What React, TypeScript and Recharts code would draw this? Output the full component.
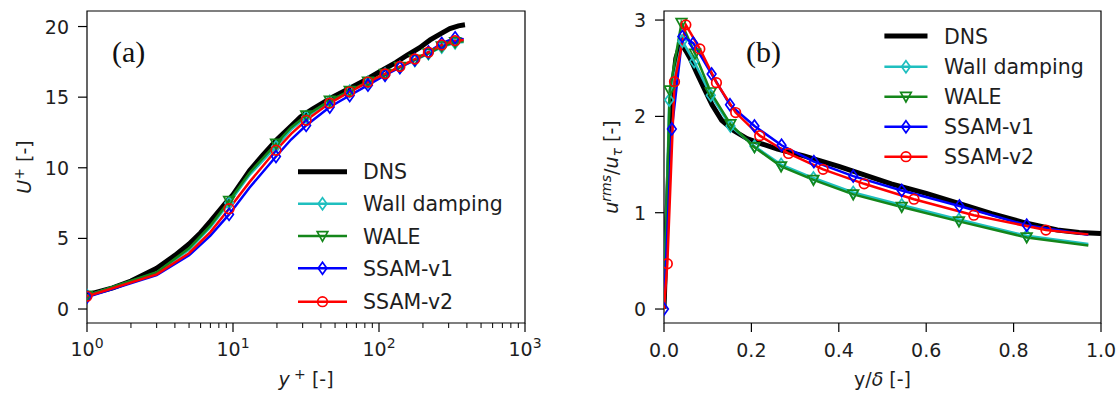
import { LineChart, Line, XAxis, YAxis, ReferenceArea, Legend } from 'recharts';

// (a) mean velocity profile, DNS reference
const dnsYPlus = [1, 1.5, 2, 3, 4, 5, 6, 7, 8.8, 10, 13, 16, 20, 25, 29, 35, 48, 65, 82, 101, 130, 155, 190, 224, 260, 306, 350, 388];
const dnsUPlus = [1.0, 1.5, 1.98, 2.88, 3.8, 4.6, 5.4, 6.2, 7.45, 8.1, 9.8, 10.9, 12.0, 12.95, 13.6, 14.15, 15.0, 15.7, 16.25, 16.8, 17.45, 17.95, 18.5, 19.05, 19.45, 19.85, 20.05, 20.12];

// (a) LES runs, shared wall-normal grid
const lesYPlus = [1, 3, 5, 7, 9.4, 13, 19.7, 25, 31.7, 46, 63, 84, 110, 139, 176, 218, 269, 332, 380];
const wallDampingU = [0.95, 2.55, 4.2, 5.8, 7.5, 9.5, 11.5, 12.7, 13.6, 14.7, 15.42, 16.05, 16.62, 17.12, 17.6, 18.08, 18.55, 18.85, 18.9];
const waleU = [0.95, 2.6, 4.3, 5.9, 7.65, 9.65, 11.7, 12.85, 13.7, 14.75, 15.45, 16.1, 16.65, 17.15, 17.65, 18.1, 18.6, 18.9, 18.95];
const ssamV1U = [0.85, 2.4, 3.8, 5.2, 6.7, 8.6, 10.8, 12.0, 13.0, 14.3, 15.12, 15.85, 16.55, 17.1, 17.65, 18.2, 18.8, 19.2, 19.1];
const ssamV2U = [0.9, 2.45, 3.95, 5.45, 7.1, 9.0, 11.24, 12.4, 13.36, 14.58, 15.38, 16.07, 16.65, 17.17, 17.7, 18.18, 18.7, 19.0, 19.05];
const lesMarksA = [0, 4, 6, 8, 9, 10, 11, 12, 13, 14, 15, 16, 17];

// (b) streamwise rms, DNS reference
const dnsYDelta = [0, 0.0025, 0.006, 0.01, 0.015, 0.02, 0.027, 0.035, 0.042, 0.05, 0.06, 0.075, 0.094, 0.11, 0.132, 0.16, 0.19, 0.22, 0.26, 0.32, 0.4, 0.46, 0.52, 0.6, 0.68, 0.75, 0.83, 0.9, 0.95, 1.0];
const dnsUrms = [0, 0.35, 0.85, 1.35, 1.9, 2.3, 2.6, 2.72, 2.74, 2.68, 2.6, 2.45, 2.27, 2.12, 1.96, 1.85, 1.77, 1.72, 1.66, 1.59, 1.48, 1.39, 1.3, 1.2, 1.09, 0.99, 0.89, 0.82, 0.795, 0.785];

// (b) LES runs
const wallDampingYDelta = [0, 0.012, 0.042, 0.069, 0.107, 0.152, 0.207, 0.268, 0.342, 0.433, 0.544, 0.675, 0.83, 0.971];
const wallDampingUrms = [0, 2.17, 2.78, 2.57, 2.22, 1.9, 1.69, 1.5, 1.36, 1.21, 1.08, 0.93, 0.76, 0.675];
const waleYDelta = [0, 0.013, 0.04, 0.071, 0.107, 0.152, 0.207, 0.268, 0.342, 0.433, 0.544, 0.675, 0.83, 0.971];
const waleUrms = [0, 2.27, 2.97, 2.65, 2.25, 1.92, 1.68, 1.48, 1.34, 1.19, 1.06, 0.91, 0.743, 0.66];
const ssamV1YDelta = [0, 0.018, 0.042, 0.067, 0.109, 0.151, 0.207, 0.269, 0.343, 0.433, 0.544, 0.676, 0.83, 0.971];
const ssamV1Urms = [0, 1.87, 2.83, 2.76, 2.44, 2.12, 1.9, 1.7, 1.53, 1.38, 1.23, 1.07, 0.87, 0.77];
const ssamV2YDelta = [0, 0.0076, 0.024, 0.05, 0.082, 0.12, 0.164, 0.219, 0.285, 0.364, 0.458, 0.572, 0.709, 0.874, 0.971];
const ssamV2Urms = [0, 0.47, 2.36, 2.95, 2.7, 2.35, 2.04, 1.8, 1.615, 1.45, 1.3, 1.14, 0.974, 0.82, 0.775];
const wallDampingMarksB = [1, 2, 3, 4, 5, 6, 7, 8, 9, 10, 11, 12];
const waleMarksB = [1, 2, 3, 4, 5, 6, 7, 8, 9, 10, 11, 12];
const ssamV1MarksB = [0, 1, 2, 3, 4, 5, 6, 7, 8, 9, 10, 11, 12];
const ssamV2MarksB = [1, 2, 3, 4, 5, 6, 7, 8, 9, 10, 11, 12, 13];

// tick labels
const logTicksA = [1, 2, 3, 4, 5, 6, 7, 8, 9, 10, 20, 30, 40, 50, 60, 70, 80, 90, 100, 200, 300, 400, 500, 600, 700, 800, 900, 1000];
const yTicksA = [0, 5, 10, 15, 20];
const xTicksB = [0, 0.2, 0.4, 0.6, 0.8, 1.0];
const yTicksB = [0, 1, 2, 3];

type Shape = 'none' | 'diamond' | 'tri' | 'circle';

const SERIES: { name: string; color: string; width: number; shape: Shape }[] = [
  { name: 'DNS', color: '#000000', width: 5, shape: 'none' },
  { name: 'Wall damping', color: '#1fbfbf', width: 2.5, shape: 'diamond' },
  { name: 'WALE', color: '#14861a', width: 2.5, shape: 'tri' },
  { name: 'SSAM-v1', color: '#0000ff', width: 2.5, shape: 'diamond' },
  { name: 'SSAM-v2', color: '#ff0000', width: 2.5, shape: 'circle' },
];

const FONT = '"DejaVu Sans", sans-serif';
const TEXT = '#1e1e1e';
const TICK_FS = 19;
const LEGEND_FS = 20.5;

const zip = (xs: number[], ys: number[], marks?: number[]) =>
  xs.map((x, i) => ({ x, y: ys[i], m: marks ? marks.includes(i) : false }));

const seriesA = [
  zip(dnsYPlus, dnsUPlus),
  zip(lesYPlus, wallDampingU, lesMarksA),
  zip(lesYPlus, waleU, lesMarksA),
  zip(lesYPlus, ssamV1U, lesMarksA),
  zip(lesYPlus, ssamV2U, lesMarksA),
];

const seriesB = [
  zip(dnsYDelta, dnsUrms),
  zip(wallDampingYDelta, wallDampingUrms, wallDampingMarksB),
  zip(waleYDelta, waleUrms, waleMarksB),
  zip(ssamV1YDelta, ssamV1Urms, ssamV1MarksB),
  zip(ssamV2YDelta, ssamV2Urms, ssamV2MarksB),
];

function Marker({ shape, color, cx, cy }: { shape: Shape; color: string; cx: number; cy: number }) {
  const common = { fill: 'none', stroke: color, strokeWidth: 1.7 };
  if (shape === 'diamond')
    return <polygon points={`${cx},${cy - 6} ${cx + 4.3},${cy} ${cx},${cy + 6} ${cx - 4.3},${cy}`} {...common} />;
  if (shape === 'tri')
    return <polygon points={`${cx - 5.3},${cy - 4.3} ${cx + 5.3},${cy - 4.3} ${cx},${cy + 5.3}`} {...common} />;
  if (shape === 'circle') return <circle cx={cx} cy={cy} r={4.8} {...common} />;
  return null;
}

const dotFor = (shape: Shape, color: string) => (p: any) => (
  <g key={`d-${p.index}`}>
    {p.payload && p.payload.m ? <Marker shape={shape} color={color} cx={p.cx} cy={p.cy} /> : null}
  </g>
);

// y ticks: outward tick line + label, drawn by hand (tickSize 0, tickMargin 0)
const leftTick = (fmt: (v: number) => string) => (p: any) => (
  <g>
    <line x1={p.x - 9} x2={p.x} y1={p.y} y2={p.y} stroke="#000" strokeWidth={1.2} />
    <text x={p.x - 18} y={p.y + 7} textAnchor="end" fontSize={TICK_FS} fontFamily={FONT} fill={TEXT}>
      {fmt(p.payload.value)}
    </text>
  </g>
);

const bottomTick = (fmt: (v: number) => string) => (p: any) => (
  <g>
    <line x1={p.x} x2={p.x} y1={p.y} y2={p.y + 9} stroke="#000" strokeWidth={1.2} />
    <text x={p.x} y={p.y + 34} textAnchor="middle" fontSize={TICK_FS} fontFamily={FONT} fill={TEXT}>
      {fmt(p.payload.value)}
    </text>
  </g>
);

function LogTick(p: any) {
  const v = p.payload.value;
  const e = Math.log10(v);
  const major = Math.abs(e - Math.round(e)) < 1e-6;
  return (
    <g>
      <line x1={p.x} x2={p.x} y1={p.y} y2={p.y + (major ? 9 : 5)} stroke="#000" strokeWidth={major ? 1.2 : 1} />
      {major && (
        <text x={p.x} y={p.y + 33} textAnchor="middle" fontSize={TICK_FS} fontFamily={FONT} fill={TEXT}>
          <tspan>10</tspan>
          <tspan dy={-8} fontSize={14}>{Math.round(e)}</tspan>
        </text>
      )}
    </g>
  );
}

function LegendOverlay({ x0, x1, tx, rows, panel, panelX }: { x0: number; x1: number; tx: number; rows: number[]; panel: string; panelX: number }) {
  return (
    <svg width={560} height={394} style={{ display: 'block' }}>
      <text x={panelX} y={61.5} fontSize={30} fontFamily='"Liberation Serif", serif' fill="#111">
        {panel}
      </text>
      {SERIES.map((s, i) => (
        <g key={s.name}>
          <line x1={x0} x2={x1} y1={rows[i]} y2={rows[i]} stroke={s.color} strokeWidth={s.width} />
          <Marker shape={s.shape} color={s.color} cx={(x0 + x1) / 2} cy={rows[i]} />
          <text x={tx} y={rows[i] + 7.5} fontSize={LEGEND_FS} fontFamily={FONT} fill={TEXT}>
            {s.name}
          </text>
        </g>
      ))}
    </svg>
  );
}

const overlayStyle = { left: 0, top: 0, width: 560, height: 394, pointerEvents: 'none' as const };

export default function App() {
  return (
    <div style={{ position: 'absolute', left: 0, top: 0, width: 1116, height: 394, background: '#fff', fontFamily: FONT }}>
      {/* (a) U+ vs y+ */}
      <div style={{ position: 'absolute', left: 0, top: 0 }}>
        <LineChart width={560} height={394} margin={{ top: 11, right: 35, bottom: 0, left: 0 }}>
          <XAxis
            type="number"
            dataKey="x"
            scale="log"
            domain={[1, 1000]}
            allowDataOverflow
            ticks={logTicksA}
            interval={0}
            tick={LogTick}
            tickSize={0}
            tickMargin={0}
            tickLine={false}
            axisLine={false}
            height={71}
            label={() => (
              <text x={306} y={386} textAnchor="middle" fontSize={TICK_FS} fontFamily={FONT} fill={TEXT}>
                <tspan fontStyle="italic">y</tspan>
                <tspan dy={-7} fontSize={14}> +</tspan>
                <tspan dy={7}> [-]</tspan>
              </text>
            )}
          />
          <YAxis
            type="number"
            domain={[-0.99, 21.1]}
            allowDataOverflow
            ticks={yTicksA}
            interval={0}
            tick={leftTick((v) => String(v))}
            tickSize={0}
            tickMargin={0}
            tickLine={false}
            axisLine={false}
            width={87}
            label={() => (
              <text x={31} y={167} transform="rotate(-90 31 167)" textAnchor="middle" fontSize={TICK_FS} fontFamily={FONT} fill={TEXT}>
                <tspan fontStyle="italic">U</tspan>
                <tspan dy={-7} fontSize={14}>+</tspan>
                <tspan dy={7}> [-]</tspan>
              </text>
            )}
          />
          <ReferenceArea x1={1} x2={1000} y1={-0.99} y2={21.1} fill="none" stroke="#000" strokeWidth={1.2} ifOverflow="visible" />
          {SERIES.map((s, i) => (
            <Line
              key={s.name}
              data={seriesA[i]}
              dataKey="y"
              name={s.name}
              type="linear"
              stroke={s.color}
              strokeWidth={s.width}
              dot={s.shape === 'none' ? false : dotFor(s.shape, s.color)}
              activeDot={false}
              isAnimationActive={false}
            />
          ))}
          <Legend
            layout="vertical"
            align="center"
            verticalAlign="middle"
            wrapperStyle={overlayStyle}
            content={() => (
              <LegendOverlay x0={298} x1={347} tx={363} rows={[171.7, 203.7, 236, 268.3, 301.7]} panel="(a)" panelX={112} />
            )}
          />
        </LineChart>
      </div>

      {/* (b) u_rms / u_tau vs y/delta */}
      <div style={{ position: 'absolute', left: 556, top: 0 }}>
        <LineChart width={560} height={394} margin={{ top: 11, right: 15, bottom: 0, left: 0 }}>
          <XAxis
            type="number"
            dataKey="x"
            domain={[0, 1]}
            allowDataOverflow
            ticks={xTicksB}
            interval={0}
            tick={bottomTick((v) => v.toFixed(1))}
            tickSize={0}
            tickMargin={0}
            tickLine={false}
            axisLine={false}
            height={71}
            label={() => (
              <text x={326.5} y={386} textAnchor="middle" fontSize={TICK_FS} fontFamily={FONT} fill={TEXT}>
                <tspan>y/</tspan>
                <tspan fontStyle="italic">δ</tspan>
                <tspan> [-]</tspan>
              </text>
            )}
          />
          <YAxis
            type="number"
            domain={[-0.145, 3.094]}
            allowDataOverflow
            ticks={yTicksB}
            interval={0}
            tick={leftTick((v) => String(v))}
            tickSize={0}
            tickMargin={0}
            tickLine={false}
            axisLine={false}
            width={108}
            label={() => (
              <text x={62} y={167} transform="rotate(-90 62 167)" textAnchor="middle" fontSize={TICK_FS} fontFamily={FONT} fill={TEXT}>
                <tspan fontStyle="italic">u</tspan>
                <tspan dy={-7} fontSize={14} fontStyle="italic">rms</tspan>
                <tspan dy={7}>/</tspan>
                <tspan fontStyle="italic">u</tspan>
                <tspan dy={4} fontSize={14} fontStyle="italic">τ</tspan>
                <tspan dy={-4}> [-]</tspan>
              </text>
            )}
          />
          <ReferenceArea x1={0} x2={1} y1={-0.145} y2={3.094} fill="none" stroke="#000" strokeWidth={1.2} ifOverflow="visible" />
          {SERIES.map((s, i) => (
            <Line
              key={s.name}
              data={seriesB[i]}
              dataKey="y"
              name={s.name}
              type="linear"
              stroke={s.color}
              strokeWidth={s.width}
              dot={s.shape === 'none' ? false : dotFor(s.shape, s.color)}
              activeDot={false}
              isAnimationActive={false}
            />
          ))}
          <Legend
            layout="vertical"
            align="center"
            verticalAlign="middle"
            wrapperStyle={overlayStyle}
            content={() => (
              <LegendOverlay x0={328.4} x1={371.5} tx={388} rows={[36, 66.7, 96.7, 126.7, 156.7]} panel="(b)" panelX={190} />
            )}
          />
        </LineChart>
      </div>
    </div>
  );
}
